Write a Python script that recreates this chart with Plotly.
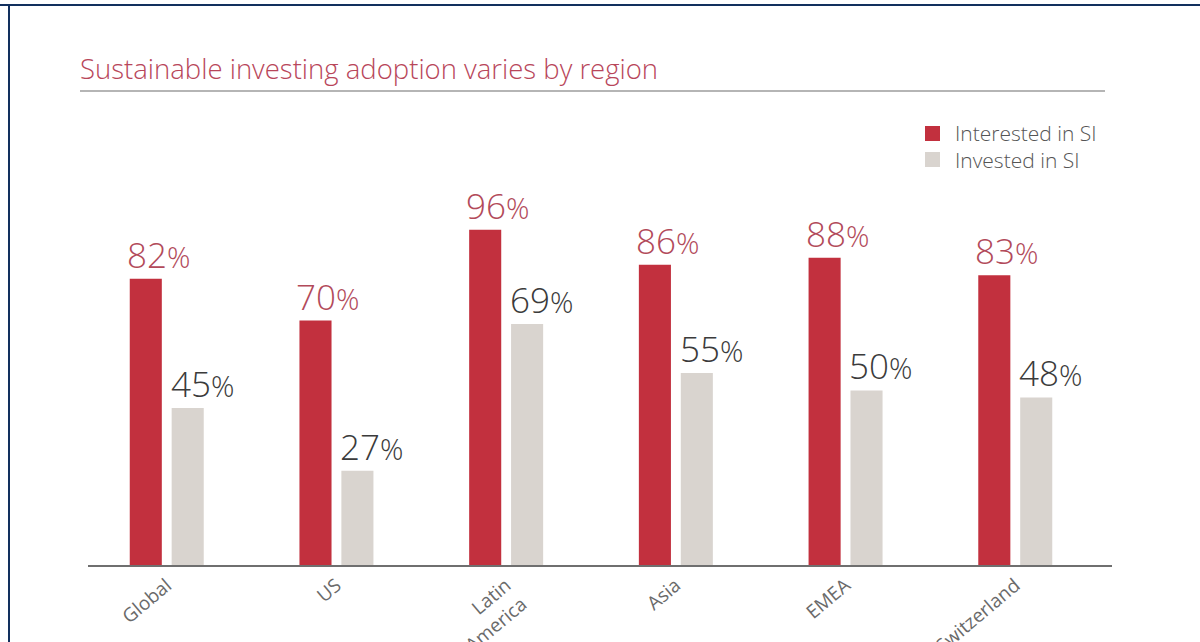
import plotly.graph_objects as go

regions = ["Global", "US", "Latin<br>America", "Asia", "EMEA", "Switzerland"]
interested = [82, 70, 96, 86, 88, 83]
invested = [45, 27, 69, 55, 50, 48]
series_names = ["Interested in SI", "Invested in SI"]
title_text = "Sustainable investing adoption varies by region"

W, H = 1200, 642
RED = "#c2303e"
GREY = "#d9d4cf"
RED_TXT = "#b24a5a"
DARK_TXT = "#3b3b3b"
FONT = "Open Sans"

x_pos = list(range(len(regions)))
bar_w = 0.189
off_red = -0.218
off_grey = 0.029

fig = go.Figure()
fig.add_trace(go.Bar(x=x_pos, y=interested, name=series_names[0], width=bar_w,
                     offset=off_red, marker=dict(color=RED, line=dict(width=0)),
                     showlegend=False, hoverinfo="skip"))
fig.add_trace(go.Bar(x=x_pos, y=invested, name=series_names[1], width=bar_w,
                     offset=off_grey, marker=dict(color=GREY, line=dict(width=0)),
                     showlegend=False, hoverinfo="skip"))

annotations = []
def pct(v):
    return (f"<span style='font-size:35px'>{v}</span>"
            f"<span style='font-size:29px'>%</span>")

for i, v in enumerate(interested):
    annotations.append(dict(x=i + off_red, y=v, xref="x", yref="y", text=pct(v),
                            showarrow=False, xanchor="left", yanchor="bottom",
                            xshift=-5, yshift=-1,
                            font=dict(family=FONT, color=RED_TXT, size=35, weight=300)))
for i, v in enumerate(invested):
    annotations.append(dict(x=i + off_grey, y=v, xref="x", yref="y", text=pct(v),
                            showarrow=False, xanchor="left", yanchor="bottom",
                            xshift=-3, yshift=-1,
                            font=dict(family=FONT, color=DARK_TXT, size=35, weight=300)))

# title
annotations.append(dict(x=78 / W, y=1 - 68 / H, xref="paper", yref="paper", text=title_text,
                        showarrow=False, xanchor="left", yanchor="middle",
                        font=dict(family=FONT, size=27.5, color="#b8465a", weight=300)))
# legend texts (one block, two lines)
annotations.append(dict(x=953 / W, y=1 - 146.5 / H, xref="paper", yref="paper",
                        text="<br>".join(series_names), align="left",
                        showarrow=False, xanchor="left", yanchor="middle",
                        font=dict(family=FONT, size=21, color="#555555", weight=300)))

shapes = [
    # frame
    dict(type="line", xref="paper", yref="paper", x0=0, x1=1, y0=1 - 5 / H, y1=1 - 5 / H,
         line=dict(color="#12305e", width=2)),
    dict(type="line", xref="paper", yref="paper", x0=9 / W, x1=9 / W, y0=0, y1=1 - 4 / H,
         line=dict(color="#12305e", width=2)),
    # title underline
    dict(type="line", xref="paper", yref="paper", x0=80 / W, x1=1105 / W, y0=1 - 91 / H, y1=1 - 91 / H,
         line=dict(color="#b5b5b5", width=2)),
    # legend squares
    dict(type="rect", xref="paper", yref="paper", x0=925 / W, x1=940 / W,
         y0=1 - 141 / H, y1=1 - 126 / H, fillcolor=RED, line=dict(width=0)),
    dict(type="rect", xref="paper", yref="paper", x0=925 / W, x1=940 / W,
         y0=1 - 167 / H, y1=1 - 152 / H, fillcolor=GREY, line=dict(width=0)),
]

fig.update_layout(
    width=W, height=H,
    margin=dict(l=0, r=0, t=0, b=0),
    paper_bgcolor="white", plot_bgcolor="white",
    barmode="overlay",
    annotations=annotations,
    shapes=shapes,
    font=dict(family=FONT),
    xaxis=dict(domain=[88 / W, 1112 / W], range=[-0.464, 5.57],
               tickmode="array", tickvals=x_pos, ticktext=regions,
               tickangle=-40, tickfont=dict(family=FONT, size=19, color="#6a6a6a"),
               showline=True, linecolor="#6f6f6f", linewidth=2,
               showgrid=False, zeroline=False, ticks="", ticklen=0,
               automargin=False, fixedrange=True),
    yaxis=dict(domain=[77 / H, (H - 146) / H], range=[0, 120],
               visible=False, showgrid=False, zeroline=False, automargin=False),
)

fig.write_html("out.html", config={"displayModeBar": False},
               post_script="document.body.style.margin='0';document.body.style.overflow='hidden';")
